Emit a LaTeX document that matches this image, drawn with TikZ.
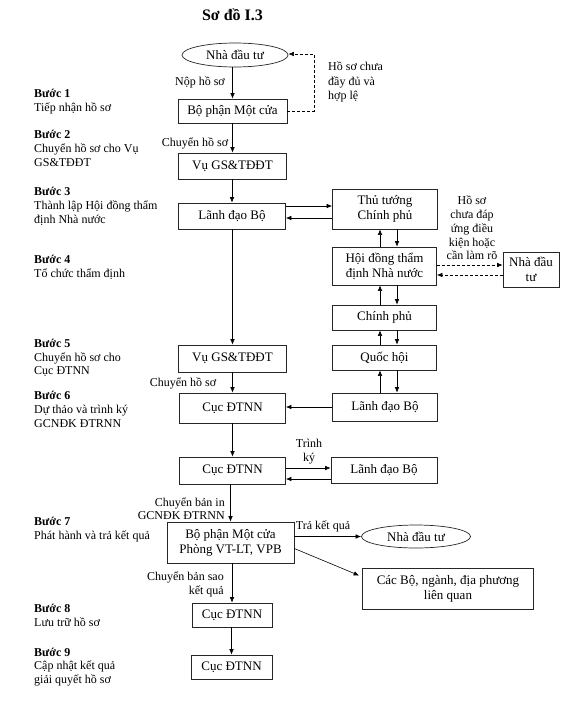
\documentclass[tikz,border=0pt]{standalone}
\usepackage{fontspec}
\setmainfont{Liberation Serif}
\usetikzlibrary{arrows.meta,shapes.geometric,calc}
\begin{document}
\begin{tikzpicture}[x=1pt,y=-1pt,
  box/.style={draw=black!85, line width=0.7pt, inner sep=0pt, align=center, font=\fontsize{13}{15}\selectfont},
  oval/.style={ellipse, draw=black!85, line width=0.7pt, inner sep=0pt, font=\fontsize{13}{15}\selectfont},
  lbl/.style={inner sep=0pt, font=\fontsize{12}{14}\selectfont},
  steplbl/.style={inner sep=0pt, anchor=west, align=left, font=\fontsize{12}{13.8}\selectfont},
  arr/.style={-{Latex[length=5.5pt,width=4.5pt]}, line width=0.6pt},
  darr/.style={arr, densely dashed}]
\useasboundingbox (0,0) rectangle (576,724);

% title
\node[inner sep=0pt, font=\fontsize{16}{19}\selectfont\bfseries] (title) at (232.5,15) {Sơ đồ I.3};

% main column
\node[oval, minimum width=106pt, minimum height=24pt] (inv1) at (235,55) {Nhà đầu tư};
\node[box, minimum width=109pt, minimum height=24pt] (bpmc) at (232.5,111) {Bộ phận Một cửa};
\node[box, minimum width=108pt, minimum height=26pt] (vu1) at (232.5,166) {Vụ GS\&TĐĐT};
\node[box, minimum width=107pt, minimum height=26pt] (ldb1) at (232,216) {Lãnh đạo Bộ};
\node[box, minimum width=108pt, minimum height=27pt] (vu2) at (232.5,358.5) {Vụ GS\&TĐĐT};
\node[box, minimum width=106pt, minimum height=30pt] (cuc1) at (232.5,408) {Cục ĐTNN};
\node[box, minimum width=106pt, minimum height=27pt] (cuc2) at (232.5,470.5) {Cục ĐTNN};
\node[box, minimum width=127pt, minimum height=41pt] (bpmc2) at (230.5,542.5) {Bộ phận Một cửa\\Phòng VT-LT, VPB};
\node[box, minimum width=80pt, minimum height=24pt] (cuc3) at (232,615) {Cục ĐTNN};
\node[box, minimum width=81pt, minimum height=24pt] (cuc4) at (231.5,667) {Cục ĐTNN};

% right column
\node[box, minimum width=105pt, minimum height=40pt] (ttcp) at (385,209) {Thủ tướng\\Chính phủ};
\node[box, minimum width=104pt, minimum height=38pt] (hdtd) at (384.5,266) {Hội đồng thẩm\\định Nhà nước};
\node[box, minimum width=56pt, minimum height=35pt] (inv2) at (531,269.5) {Nhà đầu\\tư};
\node[box, minimum width=104pt, minimum height=25pt] (cp) at (384.5,317.5) {Chính phủ};
\node[box, minimum width=104pt, minimum height=25pt] (qh) at (384.5,357.5) {Quốc hội};
\node[box, minimum width=105pt, minimum height=28pt] (ldb2) at (385,407) {Lãnh đạo Bộ};
\node[box, minimum width=106pt, minimum height=26pt] (ldb3) at (384,470) {Lãnh đạo Bộ};
\node[oval, minimum width=109pt, minimum height=23pt] (inv3) at (416,536.5) {Nhà đầu tư};
\node[box, minimum width=171pt, minimum height=41pt] (cacbo) at (448,588.5) {Các Bộ, ngành, địa phương\\liên quan};

% step labels
\node[steplbl] (s1) at (34,101.5) {\textbf{Bước 1}\\Tiếp nhận hồ sơ};
\node[steplbl] (s2) at (34,148.5) {\textbf{Bước 2}\\Chuyển hồ sơ cho Vụ\\GS\&TĐĐT};
\node[steplbl] (s3) at (34,206.5) {\textbf{Bước 3}\\Thành lập Hội đồng thẩm\\định Nhà nước};
\node[steplbl] (s4) at (34,267) {\textbf{Bước 4}\\Tổ chức thẩm định};
\node[steplbl] (s5) at (34,358) {\textbf{Bước 5}\\Chuyển hồ sơ cho\\Cục ĐTNN};
\node[steplbl] (s6) at (34,409.5) {\textbf{Bước 6}\\Dự thảo và trình ký\\GCNĐK ĐTRNN};
\node[steplbl] (s7) at (34,529.5) {\textbf{Bước 7}\\Phát hành và trả kết quả};
\node[steplbl] (s8) at (34,615.5) {\textbf{Bước 8}\\Lưu trữ hồ sơ};
\node[steplbl] (s9) at (34,667) {\textbf{Bước 9}\\Cập nhật kết quả\\giải quyết hồ sơ};

% edge labels
\node[lbl] (l1) at (200,82) {Nộp hồ sơ};
\node[lbl, anchor=west, align=left, font=\fontsize{12}{14.5}\selectfont] (l2) at (328,82) {Hồ sơ chưa\\đầy đủ và\\hợp lệ};
\node[lbl] (l3) at (195,143) {Chuyển hồ sơ};
\node[lbl, align=center, font=\fontsize{12}{13.8}\selectfont] (l4) at (472,228) {Hồ sơ\\chưa đáp\\ứng điều\\kiện hoặc\\cần làm rõ};
\node[lbl] (l5) at (183,383) {Chuyển hồ sơ};
\node[lbl, align=center, font=\fontsize{12}{14}\selectfont] (l6) at (309,452) {Trình\\ký};
\node[lbl, anchor=east, align=right, font=\fontsize{12}{13.5}\selectfont] (l7) at (225,508.5) {Chuyển bản in\\GCNĐK ĐTRNN};
\node[lbl] (l8) at (323,526) {Trả kết quả};
\node[lbl, anchor=east, align=right] (l9) at (224,584) {Chuyển bản sao\\kết quả};

% helper coordinates
\coordinate (xa) at (380,0);
\coordinate (xb) at (397,0);
\coordinate (d1) at (314,111);
\coordinate (d2) at (314,54);
\coordinate (ya) at (0,206);
\coordinate (yb) at (0,218);
\coordinate (yc) at (0,468);
\coordinate (yd) at (0,479);
\coordinate (h1) at (0,265);
\coordinate (h2) at (0,275);

% main column arrows
\draw[arr] (inv1.south -| bpmc.north) -- (bpmc.north);
\draw[arr] (bpmc.south -| vu1.north) -- (vu1.north);
\draw[arr] (vu1.south -| ldb1.north) -- (ldb1.north);
\draw[arr] (ldb1.south -| vu2.north) -- (vu2.north);
\draw[arr] (vu2.south -| cuc1.north) -- (cuc1.north);
\draw[arr] (cuc1.south -| cuc2.north) -- (cuc2.north);
\draw[arr] (cuc2.south -| bpmc2.north) -- (bpmc2.north);
\draw[arr] (bpmc2.south -| cuc3.north) -- (cuc3.north);
\draw[arr] (cuc3.south -| cuc4.north) -- (cuc4.north);

% dashed return
\draw[darr] (bpmc.east |- d1) -- (d1) -- (d2) -- (inv1.east |- d2);

% lanh dao <-> thu tuong
\draw[arr] (ldb1.east |- ya) -- (ttcp.west |- ya);
\draw[arr] (ttcp.west |- yb) -- (ldb1.east |- yb);

% vertical pairs
\draw[arr] (xa |- hdtd.north) -- (xa |- ttcp.south);
\draw[arr] (xb |- ttcp.south) -- (xb |- hdtd.north);
\draw[arr] (xa |- cp.north) -- (xa |- hdtd.south);
\draw[arr] (xb |- hdtd.south) -- (xb |- cp.north);
\draw[arr] (xa |- qh.north) -- (xa |- cp.south);
\draw[arr] (xb |- cp.south) -- (xb |- qh.north);
\draw[arr] (xa |- ldb2.north) -- (xa |- qh.south);
\draw[arr] (xb |- qh.south) -- (xb |- ldb2.north);

% hoi dong <-> nha dau tu
\draw[darr] (hdtd.east |- h1) -- (inv2.west |- h1);
\draw[darr] (inv2.west |- h2) -- (hdtd.east |- h2);

% lanh dao bo -> cuc
\draw[arr] (ldb2.west) -- (ldb2.west -| cuc1.east);

% cuc <-> lanh dao (trinh ky)
\draw[arr] (cuc2.east |- yc) -- (ldb3.west |- yc);
\draw[arr] (ldb3.west |- yd) -- (cuc2.east |- yd);

% results
\draw[arr] (bpmc2.east |- inv3.west) -- (inv3.west);
\draw[arr] ([yshift=-6pt]bpmc2.east) -- ([yshift=13pt,xshift=-3pt]cacbo.west);
\end{tikzpicture}
\end{document}
